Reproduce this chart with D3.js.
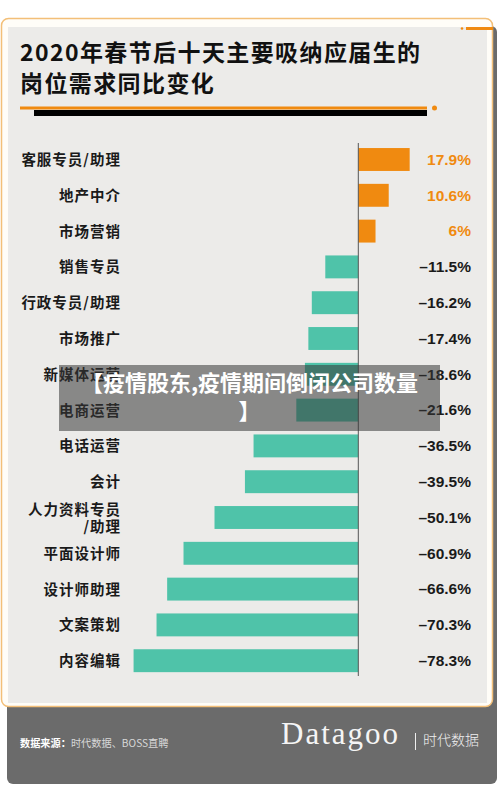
<!DOCTYPE html>
<html>
<head>
<meta charset="utf-8">
<script src="https://cdn.jsdelivr.net/npm/d3@7"></script>
<style>
  html, body { margin: 0; padding: 0; background: #ffffff; }
  svg { display: block; }
</style>
</head>
<body>
<div id="chart"></div>
<script>
const categories = ["客服专员/助理","地产中介","市场营销","销售专员","行政专员/助理","市场推广","新媒体运营","电商运营","电话运营","会计","人力资料专员/助理","平面设计师","设计师助理","文案策划","内容编辑"];
const values = [17.9, 10.6, 6, -11.5, -16.2, -17.4, -18.6, -21.6, -36.5, -39.5, -50.1, -60.9, -66.6, -70.3, -78.3];
const valueLabels = ["17.9%","10.6%","6%","–11.5%","–16.2%","–17.4%","–18.6%","–21.6%","–36.5%","–39.5%","–50.1%","–60.9%","–66.6%","–70.3%","–78.3%"];
const titleLines = ["2020年春节后十天主要吸纳应届生的", "岗位需求同比变化"];
const overlayLines = ["【疫情股东,疫情期间倒闭公司数量", "】"];
const sourceLabel = "数据来源：";
const sourceText = "时代数据、BOSS直聘";
const brandName = "Datagoo";
const brandCn = "时代数据";

const W = 500, H = 798;
const CJK = "'Noto Sans CJK SC', 'Noto Sans', sans-serif";
const ORANGE = "#f08a10";
const TEAL = "#4fc3a9";

const svg = d3.select("#chart").append("svg").attr("width", W).attr("height", H);

// dark footer/back panel
svg.append("rect").attr("x", 7).attr("y", 26).attr("width", 490).attr("height", 758)
  .attr("rx", 6).attr("fill", "#6b6b6b");

// card
svg.append("rect").attr("x", 1.5).attr("y", 18.5).attr("width", 491).attr("height", 688)
  .attr("rx", 7).attr("fill", "#fffdf8").attr("stroke", "#f3bf78").attr("stroke-width", 1.5);
svg.append("rect").attr("x", 8).attr("y", 27).attr("width", 479).attr("height", 676)
  .attr("fill", "#ecebe9");

// top-right accent
svg.append("line").attr("x1", 466).attr("x2", 493).attr("y1", 28.5).attr("y2", 28.5)
  .attr("stroke", ORANGE).attr("stroke-width", 3);
svg.append("circle").attr("cx", 462).attr("cy", 28.5).attr("r", 1.3).attr("fill", ORANGE);

// title
const title = svg.append("text").attr("font-family", CJK).attr("font-weight", 700)
  .attr("font-size", 23).attr("letter-spacing", 1.4).attr("fill", "#111");
titleLines.forEach((t, i) => {
  title.append("tspan").attr("x", 20).attr("y", 60.5 + i * 31).text(t);
});

// title underline
svg.append("rect").attr("x", 34).attr("y", 110).attr("width", 393).attr("height", 6).attr("fill", "#000");
svg.append("line").attr("x1", 20).attr("x2", 427).attr("y1", 108).attr("y2", 108)
  .attr("stroke", ORANGE).attr("stroke-width", 3);
svg.append("circle").attr("cx", 434.5).attr("cy", 108).attr("r", 2.5).attr("fill", ORANGE);

// scales
const x = d3.scaleLinear().domain([-80, 20]).range([358.3 - 80 * 2.87, 358.3 + 20 * 2.87]);
const y = d3.scaleBand().domain(categories).range([141.6, 678.6]).paddingInner(0.36).paddingOuter(0.18);

const data = categories.map((c, i) => ({ c, v: values[i], label: valueLabels[i] }));

// bars
svg.append("g").selectAll("rect").data(data).join("rect")
  .attr("x", d => x(Math.min(0, d.v)))
  .attr("y", d => y(d.c))
  .attr("width", d => Math.abs(x(d.v) - x(0)))
  .attr("height", y.bandwidth())
  .attr("fill", d => d.v >= 0 ? ORANGE : TEAL);

// zero axis
svg.append("line").attr("x1", x(0)).attr("x2", x(0)).attr("y1", 143).attr("y2", 676)
  .attr("stroke", "#555").attr("stroke-width", 1);

// category labels
const catG = svg.append("g").attr("font-family", CJK).attr("font-weight", 700)
  .attr("font-size", 14.5).attr("letter-spacing", 1).attr("fill", "#1a1a1a").attr("text-anchor", "end");
data.forEach(d => {
  const cy = y(d.c) + y.bandwidth() / 2;
  const t = catG.append("text");
  if (d.c === "人力资料专员/助理") {
    t.append("tspan").attr("x", 121).attr("y", cy - 3).text("人力资料专员");
    t.append("tspan").attr("x", 121).attr("y", cy + 14).text("/助理");
  } else {
    t.attr("x", 121).attr("y", cy + 5.5).text(d.c);
  }
});

// value labels
svg.append("g").attr("font-family", "'Liberation Sans', Arial, sans-serif").attr("font-weight", 700)
  .attr("font-size", 15.5).attr("text-anchor", "end")
  .selectAll("text").data(data).join("text")
  .attr("x", 471)
  .attr("y", d => y(d.c) + y.bandwidth() / 2 + 5.3)
  .attr("fill", d => d.v >= 0 ? ORANGE : "#1a1a1a")
  .text(d => d.label);

// overlay banner
svg.append("rect").attr("x", 59).attr("y", 365).attr("width", 381).attr("height", 66)
  .attr("fill", "rgba(55,55,55,0.55)");
const ov = svg.append("text").attr("font-family", CJK).attr("font-weight", 700)
  .attr("font-size", 22).attr("fill", "#ffffff").attr("text-anchor", "middle");
overlayLines.forEach((t, i) => {
  ov.append("tspan").attr("x", 249.5).attr("y", 391 + i * 28).text(t);
});

// footer source
const src = svg.append("text").attr("x", 20).attr("y", 747).attr("font-family", CJK).attr("font-size", 10.2);
src.append("tspan").attr("font-weight", 700).attr("fill", "#ffffff").text(sourceLabel);
src.append("tspan").attr("font-weight", 400).attr("fill", "#d8d8d8").text(sourceText);

// brand
svg.append("text").attr("x", 281).attr("y", 744).attr("font-family", "'Liberation Serif', 'DejaVu Serif', serif")
  .attr("font-size", 31).attr("letter-spacing", 2).attr("fill", "#f5f5f5").text(brandName);
svg.append("line").attr("x1", 415.5).attr("x2", 415.5).attr("y1", 733).attr("y2", 750)
  .attr("stroke", "#eeeeee").attr("stroke-width", 1);
svg.append("text").attr("x", 423).attr("y", 744.5).attr("font-family", CJK).attr("font-weight", 300)
  .attr("font-size", 14).attr("fill", "#f0f0f0").text(brandCn);
</script>
</body>
</html>
